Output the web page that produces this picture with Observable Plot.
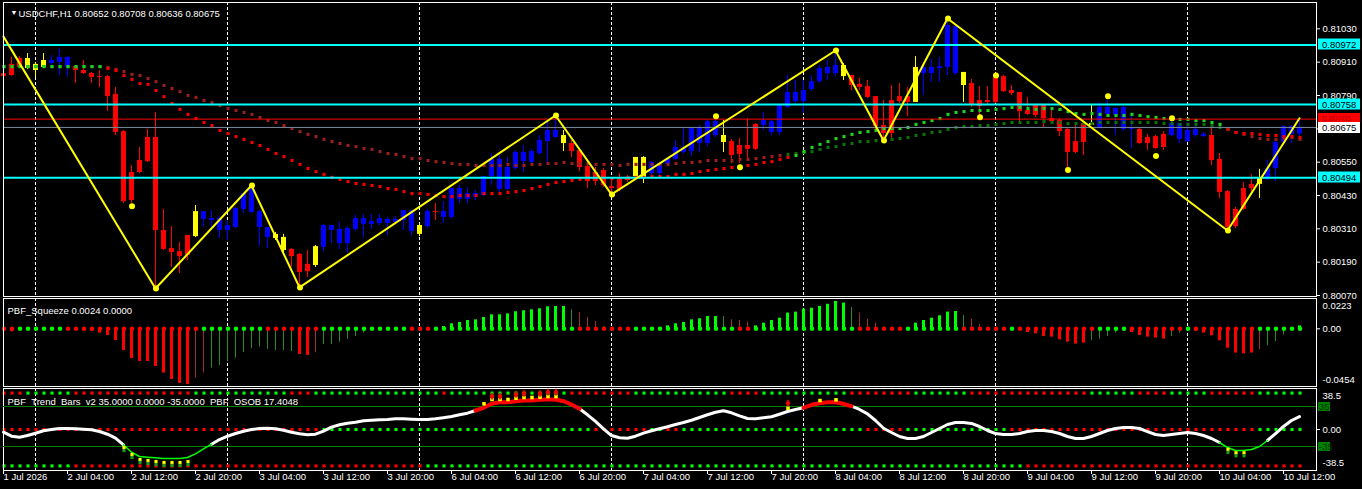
<!DOCTYPE html>
<html><head><meta charset="utf-8">
<script src="https://cdn.jsdelivr.net/npm/d3@7"></script>
<script src="https://cdn.jsdelivr.net/npm/@observablehq/plot@0.6"></script>
<style>
html,body{margin:0;padding:0;background:#000;}
#root{position:relative;width:1362px;height:489px;background:#000;overflow:hidden;}
#root svg{position:absolute;left:0;background:transparent;overflow:visible;}
</style></head><body><div id="root"></div>
<script>
// ---------------- DATA ----------------
const symbol = "USDCHF", timeframe = "H1";
const open = [0.80869,0.80902,0.80923,0.80887,0.80902,0.80891,0.80905,0.80909,0.80891,0.80894,
0.80880,0.80869,0.80858,0.80858,0.80794,0.80660,0.80513,0.80556,0.80639,0.80639,
0.80304,0.80239,0.80228,0.80286,0.80282,0.80344,0.80340,0.80304,0.80304,0.80315,
0.80380,0.80369,0.80315,0.80279,0.80290,0.80279,0.80236,0.80218,0.80182,0.80178,
0.80243,0.80304,0.80257,0.80257,0.80308,0.80326,0.80326,0.80329,0.80329,0.80333,
0.80340,0.80300,0.80322,0.80318,0.80372,0.80351,0.80351,0.80416,0.80416,0.80423,
0.80430,0.80498,0.80452,0.80452,0.80527,0.80552,0.80549,0.80581,0.80624,0.80639,
0.80646,0.80617,0.80592,0.80534,0.80513,0.80520,0.80462,0.80488,0.80495,0.80498,
0.80491,0.80509,0.80509,0.80542,0.80560,0.80585,0.80588,0.80617,0.80617,0.80646,
0.80646,0.80624,0.80610,0.80610,0.80686,0.80682,0.80657,0.80657,0.80747,0.80768,
0.80768,0.80812,0.80840,0.80869,0.80869,0.80898,0.80862,0.80830,0.80822,0.80786,
0.80682,0.80772,0.80786,0.80786,0.80765,0.80869,0.80869,0.80887,0.80891,0.80869,
0.80873,0.80833,0.80772,0.80772,0.80858,0.80858,0.80808,0.80801,0.80736,0.80754,
0.80754,0.80707,0.80700,0.80668,0.80624,0.80689,0.80682,0.80671,0.80722,0.80718,
0.80668,0.80668,0.80668,0.80639,0.80642,0.80650,0.80646,0.80632,0.80624,0.80646,
0.80642,0.80646,0.80560,0.80444,0.80380,0.80455,0.80470,0.80470,0.80488,0.80527,
0.80621,0.80650,0.80652];
const high = [0.80898,0.80927,0.80930,0.80941,0.80909,0.80941,0.80934,0.80956,0.80930,0.80898,
0.80916,0.80873,0.80880,0.80862,0.80819,0.80664,0.80538,0.80603,0.80668,0.80729,
0.80380,0.80318,0.80261,0.80286,0.80394,0.80372,0.80376,0.80354,0.80340,0.80387,
0.80441,0.80466,0.80376,0.80315,0.80297,0.80290,0.80239,0.80221,0.80232,0.80250,
0.80326,0.80322,0.80333,0.80318,0.80358,0.80362,0.80362,0.80362,0.80351,0.80354,
0.80376,0.80376,0.80329,0.80380,0.80401,0.80408,0.80455,0.80466,0.80459,0.80448,
0.80498,0.80581,0.80578,0.80567,0.80592,0.80610,0.80596,0.80646,0.80693,0.80718,
0.80664,0.80628,0.80599,0.80545,0.80531,0.80527,0.80495,0.80509,0.80502,0.80567,
0.80570,0.80552,0.80549,0.80567,0.80628,0.80671,0.80675,0.80682,0.80700,0.80707,
0.80700,0.80632,0.80635,0.80707,0.80689,0.80729,0.80700,0.80758,0.80862,0.80844,
0.80844,0.80862,0.80898,0.80916,0.80952,0.80905,0.80862,0.80851,0.80844,0.80786,
0.80772,0.80826,0.80833,0.80819,0.80930,0.80898,0.80920,0.80927,0.81067,0.81042,
0.80873,0.80848,0.80822,0.80822,0.80862,0.80862,0.80826,0.80801,0.80783,0.80758,
0.80754,0.80736,0.80707,0.80671,0.80689,0.80689,0.80754,0.80765,0.80772,0.80747,
0.80750,0.80725,0.80671,0.80650,0.80646,0.80660,0.80711,0.80689,0.80693,0.80693,
0.80657,0.80682,0.80581,0.80448,0.80387,0.80477,0.80506,0.80524,0.80556,0.80628,
0.80682,0.80682,0.80708];
const low = [0.80833,0.80858,0.80887,0.80884,0.80855,0.80887,0.80898,0.80862,0.80855,0.80833,
0.80866,0.80833,0.80819,0.80732,0.80646,0.80401,0.80401,0.80509,0.80549,0.80095,
0.80232,0.80171,0.80149,0.80196,0.80279,0.80315,0.80315,0.80275,0.80268,0.80311,
0.80365,0.80365,0.80246,0.80239,0.80268,0.80225,0.80171,0.80099,0.80135,0.80171,
0.80228,0.80257,0.80236,0.80221,0.80300,0.80275,0.80308,0.80322,0.80286,0.80326,
0.80304,0.80286,0.80282,0.80311,0.80340,0.80329,0.80344,0.80401,0.80401,0.80412,
0.80426,0.80466,0.80437,0.80448,0.80520,0.80513,0.80542,0.80574,0.80545,0.80635,
0.80588,0.80567,0.80516,0.80455,0.80466,0.80459,0.80434,0.80444,0.80477,0.80495,
0.80473,0.80491,0.80495,0.80534,0.80556,0.80578,0.80570,0.80585,0.80606,0.80639,
0.80585,0.80545,0.80545,0.80556,0.80592,0.80664,0.80646,0.80646,0.80743,0.80761,
0.80725,0.80804,0.80833,0.80844,0.80858,0.80844,0.80808,0.80808,0.80779,0.80664,
0.80628,0.80635,0.80761,0.80714,0.80765,0.80790,0.80837,0.80837,0.80862,0.80862,
0.80765,0.80747,0.80718,0.80758,0.80761,0.80801,0.80790,0.80693,0.80718,0.80711,
0.80675,0.80693,0.80642,0.80527,0.80581,0.80574,0.80682,0.80671,0.80718,0.80646,
0.80660,0.80599,0.80614,0.80592,0.80596,0.80592,0.80642,0.80617,0.80621,0.80639,
0.80639,0.80538,0.80419,0.80304,0.80311,0.80376,0.80441,0.80419,0.80484,0.80480,
0.80617,0.80617,0.80636];
const close = [0.80858,0.80862,0.80891,0.80923,0.80880,0.80916,0.80916,0.80927,0.80927,0.80880,
0.80869,0.80855,0.80855,0.80786,0.80657,0.80408,0.80412,0.80513,0.80552,0.80304,
0.80236,0.80225,0.80210,0.80214,0.80372,0.80372,0.80347,0.80347,0.80322,0.80383,
0.80437,0.80459,0.80372,0.80315,0.80275,0.80232,0.80210,0.80153,0.80156,0.80246,
0.80322,0.80322,0.80308,0.80311,0.80347,0.80347,0.80336,0.80347,0.80344,0.80344,
0.80376,0.80376,0.80290,0.80372,0.80369,0.80372,0.80455,0.80455,0.80437,0.80437,
0.80498,0.80560,0.80560,0.80531,0.80585,0.80585,0.80588,0.80628,0.80664,0.80664,
0.80617,0.80588,0.80531,0.80480,0.80480,0.80466,0.80455,0.80452,0.80484,0.80567,
0.80567,0.80549,0.80545,0.80563,0.80603,0.80599,0.80671,0.80675,0.80696,0.80696,
0.80621,0.80574,0.80578,0.80596,0.80596,0.80700,0.80696,0.80754,0.80801,0.80801,
0.80808,0.80840,0.80887,0.80891,0.80898,0.80858,0.80826,0.80819,0.80783,0.80678,
0.80653,0.80653,0.80768,0.80765,0.80891,0.80891,0.80891,0.80894,0.81042,0.81038,
0.80826,0.80754,0.80750,0.80765,0.80765,0.80804,0.80797,0.80732,0.80722,0.80718,
0.80707,0.80696,0.80660,0.80585,0.80585,0.80621,0.80689,0.80747,0.80747,0.80743,
0.80747,0.80671,0.80617,0.80617,0.80599,0.80603,0.80689,0.80689,0.80664,0.80668,
0.80650,0.80556,0.80441,0.80315,0.80318,0.80380,0.80455,0.80491,0.80527,0.80621,
0.80678,0.80678,0.80675];
// candle colouring by trend bars: b = up, r = down, y = neutral
const barTrend = ("rrryyybbbr"+"rrrrrrrrrr"+"rrrrybbbbb"+"bbbbyyrrry"+"bbbbbbbbbb"+"bbybrbbbbb"+"bbbbbbbbbb"+
"yrrrrrrrry"+"ybbbbbbbbb"+"yrrrrbbbbb"+"bbbbbyrrrr"+"rrrrybbbbb"+"yrrrrrrrrr"+"rrrrrrybbb"+"bbrrrrbbbb"+"brrrrrrybb"+"bbb").split("");
const maFast = [0.80894,0.80894,0.80894,0.80894,0.80894,0.80894,0.80894,0.80894,0.80894,0.80894,
0.80894,0.80894,0.80894,0.80887,0.80880,0.80862,0.80848,0.80833,0.80830,0.80808,
0.80786,0.80761,0.80740,0.80722,0.80707,0.80693,0.80682,0.80664,0.80653,0.80642,
0.80632,0.80621,0.80610,0.80596,0.80581,0.80570,0.80556,0.80542,0.80527,0.80516,
0.80506,0.80495,0.80488,0.80480,0.80473,0.80470,0.80466,0.80462,0.80455,0.80452,
0.80444,0.80437,0.80437,0.80434,0.80430,0.80426,0.80426,0.80430,0.80430,0.80430,
0.80437,0.80437,0.80437,0.80441,0.80444,0.80448,0.80455,0.80462,0.80470,0.80477,
0.80480,0.80484,0.80488,0.80491,0.80495,0.80491,0.80491,0.80491,0.80495,0.80495,
0.80495,0.80498,0.80498,0.80498,0.80506,0.80506,0.80509,0.80516,0.80520,0.80524,
0.80527,0.80531,0.80534,0.80538,0.80542,0.80549,0.80552,0.80560,0.80567,0.80574,
0.80588,0.80603,0.80614,0.80624,0.80635,0.80642,0.80650,0.80657,0.80660,0.80664,
0.80671,0.80671,0.80671,0.80675,0.80686,0.80693,0.80700,0.80707,0.80722,0.80729,
0.80732,0.80736,0.80736,0.80736,0.80740,0.80743,0.80747,0.80747,0.80743,0.80740,
0.80743,0.80743,0.80740,0.80732,0.80725,0.80722,0.80725,0.80722,0.80718,0.80718,
0.80718,0.80722,0.80718,0.80714,0.80711,0.80707,0.80704,0.80704,0.80704,0.80700,
0.80700,0.80693,0.80686,0.80668,0.80657,0.80653,0.80653,0.80650,0.80646,0.80646,
0.80642,0.80642,0.80639];
const maSlow = [0.80894,0.80894,0.80894,0.80894,0.80894,0.80894,0.80894,0.80894,0.80894,0.80894,
0.80894,0.80894,0.80894,0.80891,0.80884,0.80876,0.80866,0.80862,0.80851,0.80840,
0.80826,0.80815,0.80804,0.80790,0.80783,0.80772,0.80765,0.80754,0.80743,0.80736,
0.80729,0.80722,0.80711,0.80700,0.80693,0.80682,0.80671,0.80660,0.80650,0.80642,
0.80632,0.80624,0.80617,0.80610,0.80606,0.80599,0.80596,0.80588,0.80581,0.80578,
0.80570,0.80563,0.80563,0.80556,0.80552,0.80549,0.80545,0.80542,0.80542,0.80538,
0.80538,0.80538,0.80538,0.80542,0.80538,0.80538,0.80542,0.80542,0.80545,0.80545,
0.80549,0.80545,0.80545,0.80545,0.80542,0.80542,0.80542,0.80538,0.80542,0.80542,
0.80542,0.80542,0.80542,0.80542,0.80545,0.80549,0.80549,0.80552,0.80556,0.80556,
0.80556,0.80556,0.80560,0.80560,0.80563,0.80567,0.80570,0.80574,0.80578,0.80581,
0.80585,0.80588,0.80596,0.80603,0.80606,0.80614,0.80617,0.80624,0.80624,0.80628,
0.80632,0.80632,0.80635,0.80639,0.80646,0.80650,0.80657,0.80660,0.80668,0.80675,
0.80678,0.80678,0.80682,0.80682,0.80686,0.80689,0.80693,0.80693,0.80693,0.80693,
0.80696,0.80693,0.80693,0.80689,0.80689,0.80689,0.80689,0.80693,0.80693,0.80693,
0.80693,0.80693,0.80693,0.80693,0.80693,0.80689,0.80689,0.80686,0.80686,0.80686,
0.80686,0.80682,0.80675,0.80668,0.80657,0.80650,0.80642,0.80635,0.80632,0.80632,
0.80635,0.80639,0.80632];
// bars where each moving average switches direction
const maFastTurns = [0, 13, 99, 153], maFastDir = ["up","down","up","down"];
const maSlowTurns = [0, 13, 98, 154], maSlowDir = ["up","down","up","down"];
// zigzag
const zzIdx = [0, 19, 31, 37, 69, 76, 104, 110, 118, 153, 162];
const zzPrice = [0.81002,0.80095,0.80466,0.80099,0.80718,0.80434,0.80952,0.80628,0.81067,0.80304,0.80708];
const fractalIdx = [16, 89, 92, 122, 124, 133, 138, 144, 146];
const fractalPrice = [0.80391,0.80715,0.80532,0.80712,0.80862,0.80522,0.80787,0.80572,0.80708];
// horizontal levels
const cyanLevels = [0.80972, 0.80758, 0.80494];
const redLevel = 0.80705;
const priceTicks = [0.81030,0.80910,0.80790,0.80670,0.80550,0.80430,0.80310,0.80190,0.80070];
// squeeze
const sqValue = [-0.0014,-0.0024,0,0,0,0,0,0,0,0,
-0.0014,-0.0019,-0.0035,-0.0055,-0.0095,-0.0177,-0.0242,-0.0266,-0.0266,-0.0307,
-0.0361,-0.0413,-0.0445,-0.0454,-0.0402,-0.0361,-0.0320,-0.0299,-0.0266,-0.0239,
-0.0193,-0.0163,-0.0149,-0.0166,-0.0177,-0.0177,-0.0185,-0.0209,-0.0217,-0.0196,
-0.0128,-0.0128,-0.0109,-0.0087,-0.0063,-0.0035,0,0,0,0,
0,0,0,0,0,0.0019,0.0041,0.0052,0.0068,0.0073,
0.0092,0.0114,0.0114,0.0122,0.0139,0.0147,0.0155,0.0163,0.0179,0.0182,
0.0182,0.0155,0.0133,0.0092,0.0060,0.0019,0,0,0,0,
0,0,0,0.0024,0.0041,0.0052,0.0073,0.0082,0.0100,0.0100,
0.0100,0.0073,0.0068,0.0054,0.0024,0.0046,0.0068,0.0087,0.0128,0.0136,
0.0160,0.0168,0.0182,0.0200,0.0223,0.0210,0.0174,0.0128,0.0079,0.0046,
0.0014,0,0,0,0.0046,0.0068,0.0087,0.0106,0.0136,0.0141,
0.0109,0.0079,0.0033,0,0,0,0,-0.0008,-0.0030,-0.0041,
-0.0063,-0.0068,-0.0090,-0.0109,-0.0125,-0.0117,-0.0098,-0.0084,-0.0063,-0.0035,
-0.0022,-0.0030,-0.0055,-0.0068,-0.0076,-0.0084,-0.0063,-0.0035,0,-0.0020,
-0.0035,-0.0057,-0.0098,-0.0158,-0.0198,-0.0204,-0.0198,-0.0171,-0.0139,-0.0103,
-0.0049,-0.0016,0.0024];
// U strong up, u weak up, D strong down, d weak down, - none
const sqType = ("DD--------"+"DDDDDDDDDD"+"DDDDdduuuu"+"uuuuuuuDDd"+"uuuuuu----"+"-----UUUUU"+"UUUUUUUUUU"+
"Uudddd----"+"---UUUUUUU"+"udddUUUUUU"+"UUUUUUuddd"+"d---UUUUUU"+"udd----DDD"+"DDDDDDuuuu"+"uDDDDDuu-D"+"DDDDDDDduu"+"uuU").split("");
const sqDots = ("rrggggggrr"+"rrrrrrrrrr"+"rrrrrggggg"+"gggrrrrrrr"+"gggggggggg"+"grrrgggggg"+"gggggggggg"+
"ggrrrrrrrg"+"gggggggggg"+"ggrrgggggg"+"gggggggrrr"+"rrrggggggg"+"rrrrrrgrrr"+"rrrrrrrggg"+"grrrrrrrgr"+"rrrrrrrggg"+"ggg").split("");
const sqTicks = [0.0223, 0, -0.0454];
// trend bars rows (35 / 0 / -35)
const trendLevels = [35, 0, -35];
const trendTop = ("rrrggggggr"+"rrrrrrrrrr"+"rrrrgggggg"+"ggggggrrrg"+"gggggggggg"+"gggggrgggg"+"gggggggggg"+
"grrrrrrrrg"+"gggggggggg"+"grrrrggggg"+"ggggggrrrr"+"rrrrgggggg"+"grrrrrrrrr"+"rrrrrrgggg"+"ggrrrrgggg"+"grrrrrrggg"+"ggg");
const trendMid = ("rrrrrrrrrr"+"rrrrrrrrrr"+"rrrrrrrrrr"+"rrrrrrrrrr"+"gggggggggg"+"gggggggggg"+"gggggggggg"+
"ggggrrrrrr"+"rggrrggggg"+"gggggggggg"+"ggggggggrr"+"rrrggggggg"+"ggggggrrrr"+"rrrrrrrrrr"+"rrrrrrrrrr"+"rrrrrrrggg"+"ggg");
const trendBot = ("gggggggggr"+"rrrrrrrrrr"+"rrrrrrrrrr"+"rrrrrrrrrr"+"rrrrrrrrrr"+"rrrggggggg"+"gggggggggg"+
"gggggggggg"+"gggggggggg"+"gggggggggg"+"gggggggggg"+"gggggggggg"+"ggggggggrr"+"rrrrrrrrrr"+"rrrrrrrrrr"+"rrrrrrrrrr"+"rrr");
// OSOB oscillator
const osob = [-10.0,-17.0,-18.7,-15.8,-11.7,-7.5,-5.3,-3.5,-3.5,-4.0,
-4.7,-5.8,-8.8,-13.5,-20.5,-32.0,-45.0,-52.5,-53.7,-54.8,
-56.0,-56.0,-56.0,-54.3,-47.8,-39.0,-31.0,-22.8,-17.0,-12.3,
-8.2,-5.3,-3.5,-3.0,-4.0,-6.5,-10.0,-12.8,-14.5,-13.5,
-8.2,-1.2,3.0,5.8,7.5,10.0,11.0,11.7,12.3,13.5,
13.5,12.8,12.3,12.3,13.5,15.5,17.5,20.5,23.3,28.0,
32.7,39.7,42.5,42.5,44.3,45.5,45.5,46.7,47.3,47.3,
44.3,38.5,31.0,20.5,8.8,-4.0,-15.8,-19.8,-20.5,-17.0,
-11.7,-7.5,-4.0,-0.5,3.5,7.0,11.0,15.8,20.5,25.0,
27.5,24.0,18.7,14.0,13.5,15.2,17.0,21.5,26.3,29.8,
32.7,38.0,40.8,42.5,42.5,39.7,35.5,29.8,22.2,10.5,
-3.0,-10.5,-17.5,-21.0,-21.0,-17.5,-10.5,-3.5,3.5,7.0,
7.0,5.3,0,-7.0,-12.3,-14.0,-14.0,-12.3,-8.8,-7.0,
-7.0,-8.8,-12.3,-17.5,-21.0,-21.0,-17.5,-12.3,-7.0,-3.5,
-1.8,-1.8,-3.5,-8.8,-14.0,-15.8,-14.0,-12.3,-10.5,-12.3,
-15.8,-21.0,-28.0,-36.8,-42.0,-42.0,-40.3,-35.0,-24.5,-12.3,
0,10.5,17.4048];
const osobLevels = [35, -35];
const osobHighRanges = [[59, 72], [100, 106]];
const osobLowRanges = [[15, 26], [152, 158]];
const obMarkIdx = [60,61,62,63,64,65,66,67,68,69,98,102,104];
const obMarkVal = [39.7,47.3,47.3,47.3,49.5,50.8,50.8,51.3,52.5,52.5,32,45.5,46.7];
const obAlertIdx = [61,62,64,65,67,68,69,98];
const obAlertVal = [53,53,56,57.8,57.8,60,60,40.8];
const osMarkIdx = [15,16,17,18,19,20,21,22,23,153,154,155];
const osMarkVal = [-36.8,-49,-57.8,-59.5,-61.3,-63,-63,-63,-61.3,-40,-46,-46];
// time axis
const daySepIdx = [4, 28, 52, 76, 100, 124, 148];
const xTickIdx = [0,8,16,24,32,40,48,56,64,72,80,88,96,104,112,120,128,136,144,152,160];
const xLabels = ["1 Jul 2026","2 Jul 04:00","2 Jul 12:00","2 Jul 20:00","3 Jul 04:00","3 Jul 12:00","3 Jul 20:00",
"6 Jul 04:00","6 Jul 12:00","6 Jul 20:00","7 Jul 04:00","7 Jul 12:00","7 Jul 20:00","8 Jul 04:00","8 Jul 12:00",
"8 Jul 20:00","9 Jul 04:00","9 Jul 12:00","9 Jul 20:00","10 Jul 04:00","10 Jul 12:00"];

// ---------------- LAYOUT ----------------
const W = 1362, ML = 3, MR = 46;
const X_DOMAIN = [0, 164.125];
const FONT = '"Liberation Sans", Arial, sans-serif';
const FS = 9.5;
const style = {background: "transparent", color: "#fff", fontFamily: FONT, fontSize: FS + "px", overflow: "visible"};
const root = document.getElementById("root");
function place(el, top) { el.style.position = "absolute"; el.style.left = "0px"; el.style.top = top + "px"; root.appendChild(el); }
const f5 = v => v.toFixed(5);
const nbsp = "\u00a0";

const colBar = {b: "#0000ff", r: "#ff0000", y: "#ffff00"};
const bars = open.map((o, i) => ({i, o, h: high[i], l: low[i], c: close[i], col: colBar[barTrend[i]]}));
function dirAt(turns, dirs, i) { let d = dirs[0]; turns.forEach((t, k) => { if (i >= t) d = dirs[k]; }); return d; }
const maPts = [];
maSlow.forEach((v, i) => maPts.push({i, v, col: dirAt(maSlowTurns, maSlowDir, i) === "up" ? "#0b700b" : "#962020"}));
maFast.forEach((v, i) => maPts.push({i, v, col: dirAt(maFastTurns, maFastDir, i) === "up" ? "#22d022" : "#f00000"}));
const zz = zzIdx.map((i, k) => ({i, v: zzPrice[k]}));
const yellowDots = zz.slice(1, -1).concat(fractalIdx.map((i, k) => ({i, v: fractalPrice[k]})));

// ---------- main price panel ----------
const main = Plot.plot({
  width: W, height: 298, marginLeft: ML, marginRight: MR, marginTop: 2, marginBottom: 2,
  style,
  x: {domain: X_DOMAIN, axis: null},
  y: {domain: [0.800664, 0.811248], axis: "right", ticks: priceTicks, tickFormat: f5, tickSize: 3, tickPadding: 3, label: null},
  color: {type: "identity"},
  marks: [
    Plot.ruleX(daySepIdx, {x: d => d, stroke: "#fff", strokeDasharray: "3,2"}),
    Plot.ruleX(bars, {x: "i", y1: "l", y2: "h", stroke: "col"}),
    Plot.ruleX(bars, {x: "i", y1: "o", y2: "c", stroke: "col", strokeWidth: 5}),
    Plot.dot(maPts, {x: "i", y: "v", fill: "col", symbol: "square", r: 1.75, dx: 0.5}),
    Plot.ruleY(cyanLevels, {y: d => d, stroke: "#00ffff", strokeWidth: 2}),
    Plot.ruleY([redLevel], {y: d => d, stroke: "#ff0000"}),
    Plot.ruleY([close[close.length - 1]], {y: d => d, stroke: "#778899"}),
    Plot.line(zz, {x: "i", y: "v", stroke: "#ffff00", strokeWidth: 2}),
    Plot.dot(yellowDots, {x: "i", y: "v", fill: "#ffff00", r: 3, dx: 0.5}),
    Plot.text(["\u25BC"], {text: d => d, frameAnchor: "top-left", dx: 7, dy: 8, fontSize: 7, fill: "#fff"}),
    Plot.text([`${symbol},${timeframe} ${[open, high, low, close].map(a => f5(a[a.length - 1])).join(" ")}`],
      {text: d => d, frameAnchor: "top-left", dx: 15, dy: 8, textAnchor: "start", fill: "#fff"}),
    Plot.frame({stroke: "#fff"})
  ]
});
place(main, 0);
{
  const ys = main.scale("y");
  const svg = d3.select(main);
  // price labels with coloured backgrounds; the later (bid) box is drawn on top of the earlier one
  const boxes = cyanLevels.map(v => ({v, bg: "#00ffff", fg: "#000", h: 11, off: 0}))
    .concat([{v: redLevel, bg: "#ff0000", fg: "#b00000", h: 9, off: -1.5},
             {v: close[close.length - 1], bg: "#ffffff", fg: "#000", h: 11, off: 0.5}]);
  for (const b of boxes) {
    const y = Math.round(ys.apply(b.v)) + b.off;
    svg.append("rect").attr("x", 1318).attr("y", y - b.h / 2).attr("width", 42).attr("height", b.h).attr("fill", b.bg);
    svg.append("text").attr("x", 1322).attr("y", y + 0.5).attr("dy", "0.35em").attr("fill", b.fg)
      .attr("text-anchor", "start").attr("font-family", FONT).attr("font-size", b.h < 10 ? 8 : FS).text(f5(b.v));
  }
}

// ---------- squeeze panel ----------
const sqCol = {U: "#00ff00", u: "#2a8a2a", D: "#ff0000", d: "#9a3030"};
const sq = sqValue.map((v, i) => ({i, v, t: sqType[i], dot: sqDots[i] === "g" ? "#00ff00" : "#ff0000"}));
const squeeze = Plot.plot({
  width: W, height: 92, marginLeft: ML, marginRight: MR, marginTop: 2, marginBottom: 2,
  style,
  x: {domain: X_DOMAIN, axis: null},
  y: {domain: [-0.0470, 0.0247], axis: "right", ticks: [sqTicks[1]], tickFormat: d => d.toFixed(2), tickSize: 3, tickPadding: 3, label: null},
  color: {type: "identity"},
  marks: [
    Plot.ruleX(daySepIdx, {x: d => d, stroke: "#fff", strokeDasharray: "3,2"}),
    Plot.ruleX(sq.filter(d => d.t === "U" || d.t === "D"), {x: "i", y1: d => 0, y2: "v", stroke: d => sqCol[d.t], strokeWidth: 3}),
    Plot.ruleX(sq.filter(d => d.t === "u" || d.t === "d"), {x: "i", y1: d => 0, y2: "v", stroke: d => sqCol[d.t], strokeWidth: 1}),
    Plot.dot(sq, {x: "i", y: d => 0, fill: "dot", r: 2.2, dx: 0.5}),
    Plot.text([sqTicks[0]], {y: d => d, text: d => d.toFixed(4), frameAnchor: "right", dx: 6, dy: 4.5, textAnchor: "start", fill: "#fff"}),
    Plot.text([sqTicks[2]], {y: d => d, text: d => d.toFixed(4), frameAnchor: "right", dx: 6, dy: -4.5, textAnchor: "start", fill: "#fff"}),
    Plot.text([`PBF_Squeeze ${sqValue[sqValue.length - 1].toFixed(4)} ${(0).toFixed(4)}`],
      {text: d => d, frameAnchor: "top-left", dx: 4, dy: 9, textAnchor: "start", fill: "#fff"}),
    Plot.frame({stroke: "#fff"})
  ]
});
place(squeeze, 296);

// ---------- trend bars panel ----------
const rowPts = [];
[trendTop, trendMid, trendBot].forEach((s, k) => s.split("").forEach((c, i) => rowPts.push({i, v: trendLevels[k], col: c === "g" ? "#00ff00" : "#ff0000"})));
const trend = Plot.plot({
  width: W, height: 103, marginLeft: ML, marginRight: MR, marginTop: 2, marginBottom: 19,
  style,
  x: {domain: X_DOMAIN, axis: "bottom", ticks: xTickIdx, tickFormat: () => "", tickSize: 4, label: null},
  y: {domain: [-39.4, 39.4], axis: "right", ticks: [0], tickFormat: d => d.toFixed(2), tickSize: 3, tickPadding: 3, label: null},
  color: {type: "identity"},
  marks: [
    Plot.ruleX(daySepIdx, {x: d => d, stroke: "#fff", strokeDasharray: "3,2"}),
    Plot.dot(rowPts, {x: "i", y: "v", fill: "col", symbol: "square", r: 1.75, dx: 0.5}),
    Plot.text([38.5], {y: d => d, text: d => String(d), frameAnchor: "right", dx: 6, dy: 7, textAnchor: "start", fill: "#fff"}),
    Plot.text([-38.5], {y: d => d, text: d => String(d), frameAnchor: "right", dx: 6, dy: -7, textAnchor: "start", fill: "#fff"}),
    Plot.text(xTickIdx, {x: d => d, text: (d, k) => xLabels[k], frameAnchor: "bottom", dy: 9, textAnchor: "start", fill: "#fff"}),
    Plot.text([`PBF_Trend_Bars_v2 ${trendLevels.map(v => v.toFixed(4)).join(" ")}${nbsp}${nbsp}PBF_OSOB ${osob[osob.length - 1].toFixed(4)}`],
      {text: d => d, frameAnchor: "top-left", dx: 4, dy: 9.5, textAnchor: "start", fill: "#fff"}),
    Plot.frame({stroke: "#fff"})
  ]
});
place(trend, 386);

// ---------- OSOB overlay (own scale) ----------
const specials = osobHighRanges.map(r => ({r, k: "hi"})).concat(osobLowRanges.map(r => ({r, k: "lo"}))).sort((a, b) => a.r[0] - b.r[0]);
const segs = []; let start = 0;
for (const s of specials) { segs.push({from: start, to: s.r[0], k: "mid"}); segs.push({from: s.r[0], to: s.r[1], k: s.k}); start = s.r[1]; }
segs.push({from: start, to: osob.length - 1, k: "mid"});
const osPts = segs.flatMap((s, si) => d3.range(s.from, s.to + 1).map(i => ({i, v: osob[i], seg: si, k: s.k})));
const obMarks = obMarkIdx.map((i, k) => ({i, v: obMarkVal[k]}));
const obAlerts = obAlertIdx.map((i, k) => ({i, v: obAlertVal[k]}));
const osMarks = osMarkIdx.map((i, k) => ({i, v: osMarkVal[k]}));
const osobPlot = Plot.plot({
  width: W, height: 103, marginLeft: ML, marginRight: MR, marginTop: 2, marginBottom: 19,
  style,
  x: {domain: X_DOMAIN, axis: null},
  y: {domain: [-77, 66.5], axis: null},
  marks: [
    Plot.ruleY(osobLevels, {y: d => d, stroke: "#008000"}),
    Plot.line(osPts.filter(d => d.k === "mid"), {x: "i", y: "v", z: "seg", stroke: "#ffffff", strokeWidth: 3}),
    Plot.line(osPts.filter(d => d.k === "lo"), {x: "i", y: "v", z: "seg", stroke: "#00ff00", strokeWidth: 1.5}),
    Plot.line(osPts.filter(d => d.k === "hi"), {x: "i", y: "v", z: "seg", stroke: "#ff0000", strokeWidth: 4}),
    Plot.dot(obMarks, {x: "i", y: "v", fill: "#ffff00", symbol: "square", r: 2, dx: 0.5}),
    Plot.dot(obAlerts, {x: "i", y: "v", fill: "#ff0000", symbol: "diamond", r: 2.4, dx: 0.5}),
    Plot.dot(osMarks, {x: "i", y: "v", fill: "#ffff00", symbol: "square", r: 1.8, dx: 0.5}),
    Plot.dot(osMarks, {x: "i", y: "v", fill: "#1a9a1a", symbol: "square", r: 1.8, dx: 0.5, dy: 3})
  ]
});
place(osobPlot, 386);
{
  const ys = osobPlot.scale("y");
  const svg = d3.select(osobPlot);
  for (const v of osobLevels) {
    const y = Math.round(ys.apply(v));
    svg.append("rect").attr("x", 1318).attr("y", y - 4).attr("width", 12).attr("height", 9).attr("fill", "#008000");
    svg.append("text").attr("x", 1319).attr("y", y + 0.5).attr("dy", "0.35em").attr("fill", "#003800")
      .attr("text-anchor", "start").attr("font-family", FONT).attr("font-size", FS).text(String(v));
  }
}
</script></body></html>
